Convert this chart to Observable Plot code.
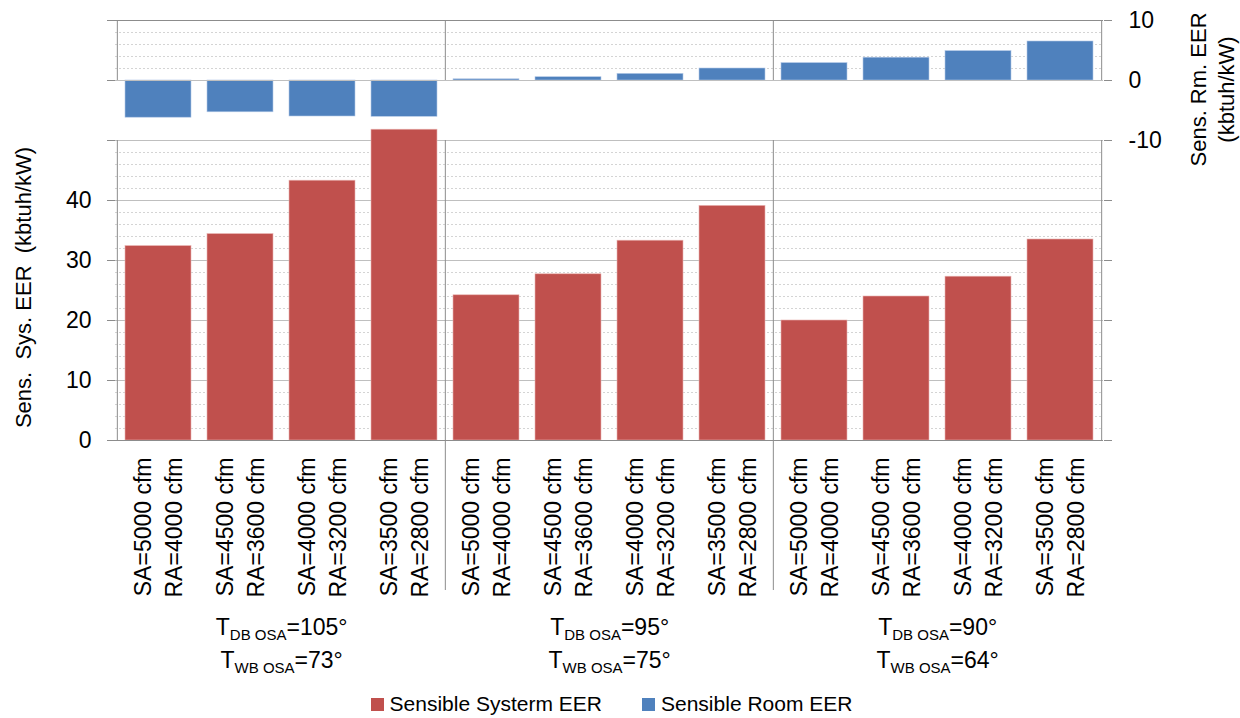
<!DOCTYPE html>
<html>
<head>
<meta charset="utf-8">
<script src="https://cdn.jsdelivr.net/npm/d3@7"></script>
<script src="https://cdn.jsdelivr.net/npm/@observablehq/plot@0.6"></script>
<style>
  html, body { margin: 0; padding: 0; background: #fff; }
  body { width: 1240px; height: 718px; overflow: hidden; font-family: "Liberation Sans", Arial, sans-serif; }
  #chart svg text { white-space: pre; }
  #legend { display: flex; justify-content: center; align-items: center; height: 28px; font-size: 21px; color: #000; padding-right: 17px; }
  #legend .item { display: flex; align-items: center; margin: 0 20px; }
  #legend .sw { width: 13px; height: 13px; margin-right: 6px; }
</style>
</head>
<body>
<div id="chart"></div>
<div id="legend"></div>
<script>
// ---------------- data ----------------
const groupDB = ["105°", "95°", "90°"];
const groupWB = ["73°", "75°", "64°"];
const supplyAir = ["SA=5000 cfm", "SA=4500 cfm", "SA=4000 cfm", "SA=3500 cfm"];
const returnAir = ["RA=4000 cfm", "RA=3600 cfm", "RA=3200 cfm", "RA=2800 cfm"];
const systemEER = [32.4, 34.4, 43.3, 51.8, 24.2, 27.7, 33.3, 39.1, 20.0, 24.0, 27.3, 33.5];
const roomEER = [-6.2, -5.3, -6.0, -6.05, 0.2, 0.55, 1.1, 2.0, 2.9, 3.8, 4.9, 6.5];
const leftTickLabels = [0, 10, 20, 30, 40];
const rightTickLabels = [-10, 0, 10];
const seriesNames = ["Sensible Systerm EER", "Sensible Room EER"];
const seriesColors = ["#C0504D", "#4F81BD"];
const leftTitle = "Sens.  Sys. EER  (kbtuh/kW)";
const rightTitle = "Sens. Rm. EER\n(kbtuh/kW)";

// ---------------- layout ----------------
const W = 1240, H = 690, mL = 115, mR = 137, mT = 20, mB = 250;
const leftDomain = [0, 70];          // whole plot area in left-axis units
const bottomPanel = [0, 50];         // system EER panel
const rightZero = 60;                // left-axis value at which right axis reads 0
const topPanel = [rightZero, rightZero + 10];
const rightValue = v => rightZero + v;

const perGroup = supplyAir.length;
const rows = systemEER.map((v, i) => ({
  key: `g${Math.floor(i / perGroup)}-${i % perGroup}`,
  sa: supplyAir[i % perGroup],
  ra: returnAir[i % perGroup],
  sys: v,
  room: roomEER[i]
}));
const keys = rows.map(d => d.key);
const xOpts = {type: "band", domain: keys, paddingInner: 0.2, paddingOuter: 0.1};
const sx = Plot.scale({x: {...xOpts, range: [mL, W - mR]}});
const step = sx.step ?? (W - mL - mR) / keys.length;

const groupStartKeys = groupDB.map((_, g) => keys[g * perGroup]);
const groupMidKeys = groupDB.map((_, g) => keys[g * perGroup + perGroup / 2 - 1]);
const lastKey = keys[keys.length - 1];

const majorTicks = d3.range(leftDomain[0], leftDomain[1] + 1, 10);
const minorTicks = d3.range(leftDomain[0], leftDomain[1] + 1, 2).filter(v =>
  v % 10 !== 0 && ((v > bottomPanel[0] && v < bottomPanel[1]) || (v > topPanel[0] && v < topPanel[1])));
const bottomMajor = majorTicks.filter(v => v > bottomPanel[0] && v <= bottomPanel[1]);

const axisGray = "#8c8c8c";
const gridGray = "#bfbfbf";

const chart = Plot.plot({
  width: W, height: H,
  marginLeft: mL, marginRight: mR, marginTop: mT, marginBottom: mB,
  style: {fontFamily: "'Liberation Sans', Arial, sans-serif", fontSize: "23px", background: "#fff", color: "#000", overflow: "visible"},
  x: {...xOpts, axis: null},
  y: {domain: leftDomain, axis: null},
  marks: [
    // gridlines
    Plot.ruleY(minorTicks, {stroke: "#d4d4d4", strokeDasharray: "2,2"}),
    Plot.ruleY(bottomMajor, {stroke: gridGray}),
    // bars
    Plot.barY(rows, {x: "key", y: "sys", fill: seriesColors[0], stroke: "#e9b3b1", strokeWidth: 0.6}),
    Plot.barY(rows, {x: "key", y1: () => rightZero, y2: d => rightValue(d.room), fill: seriesColors[1], stroke: "#b3c8e6", strokeWidth: 0.6}),
    // horizontal structure lines
    Plot.ruleY([rightZero], {stroke: gridGray}),
    Plot.ruleY([topPanel[1]], {stroke: axisGray}),
    Plot.ruleY([bottomPanel[0]], {stroke: axisGray}),
    // vertical borders & separators (band edges)
    Plot.ruleX(groupStartKeys, {y1: topPanel[1], y2: topPanel[0], dx: -step / 2, stroke: axisGray}),
    Plot.ruleX([lastKey], {y1: topPanel[1], y2: topPanel[0], dx: step / 2, stroke: axisGray}),
    Plot.ruleX(groupStartKeys.slice(0, 1), {y1: bottomPanel[1], y2: bottomPanel[0], dx: -step / 2, stroke: axisGray}),
    Plot.ruleX(groupStartKeys.slice(1), {y1: bottomPanel[1], y2: bottomPanel[0], dx: -step / 2, insetBottom: -150, stroke: axisGray}),
    Plot.ruleX([lastKey], {y1: bottomPanel[1], y2: bottomPanel[0], dx: step / 2, stroke: axisGray}),
    // axes
    Plot.axisY({anchor: "left", ticks: majorTicks, tickSize: 8, tickPadding: 16, stroke: axisGray, fill: "#000", fontSize: 23,
      textAnchor: "end", tickFormat: d => leftTickLabels.includes(d) ? String(d) : "", label: null}),
    Plot.axisY({anchor: "right", ticks: majorTicks, tickSize: 8, stroke: axisGray, tickFormat: () => "", label: null}),
    Plot.text(rightTickLabels, {y: d => rightValue(d), text: d => String(d), frameAnchor: "right", textAnchor: "start", lineAnchor: "middle", dx: 25, fontSize: 23, fill: "#000"}),
    // category labels
    Plot.text(rows, {x: "key", text: "sa", frameAnchor: "bottom", rotate: -90, textAnchor: "end", lineAnchor: "middle", dx: -15, dy: 17, fontSize: 23}),
    Plot.text(rows, {x: "key", text: "ra", frameAnchor: "bottom", rotate: -90, textAnchor: "end", lineAnchor: "middle", dx: 16, dy: 17, fontSize: 23}),
    // group labels
    Plot.text(groupDB, {x: (d, i) => groupMidKeys[i], text: d => `T_DB OSA=${d}`, frameAnchor: "bottom", textAnchor: "middle", lineAnchor: "middle", dx: step / 2, dy: 187, fontSize: 23}),
    Plot.text(groupWB, {x: (d, i) => groupMidKeys[i], text: d => `T_WB OSA=${d}`, frameAnchor: "bottom", textAnchor: "middle", lineAnchor: "middle", dx: step / 2, dy: 220, fontSize: 23}),
    // axis titles
    Plot.text([leftTitle], {frameAnchor: "left", y: [d3.mean(bottomPanel)], textAnchor: "middle", lineAnchor: "middle", dx: -92, dy: -3, rotate: -90, fontSize: 22}),
    Plot.text([rightTitle], {frameAnchor: "right", y: [rightZero], textAnchor: "middle", lineAnchor: "middle", dx: 108, dy: 9, rotate: -90, fontSize: 22, lineHeight: 1.27})
  ]
});

// subscripts in group labels
chart.querySelectorAll("text").forEach(t => {
  const m = /^T_(.+?)=(.*)$/.exec(t.textContent);
  if (!m) return;
  while (t.firstChild) t.removeChild(t.firstChild);
  const ns = "http://www.w3.org/2000/svg";
  t.appendChild(document.createTextNode("T"));
  const sub = document.createElementNS(ns, "tspan");
  sub.setAttribute("font-size", "15");
  sub.setAttribute("dy", "5");
  sub.textContent = m[1];
  t.appendChild(sub);
  const rest = document.createElementNS(ns, "tspan");
  rest.setAttribute("dy", "-5");
  rest.textContent = "=" + m[2];
  t.appendChild(rest);
});

document.getElementById("chart").appendChild(chart);

// legend
const legend = document.getElementById("legend");
seriesNames.forEach((name, i) => {
  const item = document.createElement("div");
  item.className = "item";
  const sw = document.createElement("span");
  sw.className = "sw";
  sw.style.background = seriesColors[i];
  const label = document.createElement("span");
  label.textContent = name;
  item.appendChild(sw);
  item.appendChild(label);
  legend.appendChild(item);
});
</script>
</body>
</html>
